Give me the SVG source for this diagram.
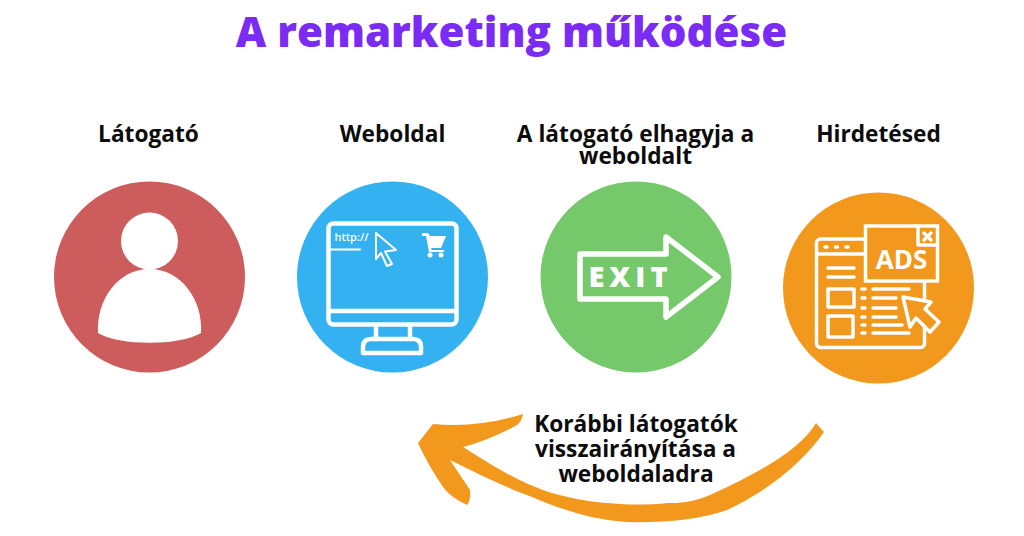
<svg xmlns="http://www.w3.org/2000/svg" width="1024" height="536" viewBox="0 0 1024 536">
<style>
text{font-family:"Open Sans","Liberation Sans",sans-serif;font-weight:700;text-anchor:middle;fill:#0c0c0c}
.title{font-size:42px;font-weight:800;fill:#7a2cf5}
.lab{font-size:22.700px}
.ln{fill:none;stroke:#fff;stroke-width:4.500;stroke-linejoin:round;stroke-linecap:round}
.thin{fill:none;stroke:#fff;stroke-width:3.500;stroke-linejoin:round;stroke-linecap:round}
.ic{fill:#fff;stroke:none}
</style>
<rect width="1024" height="536" fill="#fff"/>
<text class="title" x="511.500" y="47">A remarketing működése</text>
<g id="node-latogato">
<text class="lab" x="148.500" y="142">Látogató</text>
<circle cx="149.500" cy="277" r="95.500" fill="#cd5c5c"/>
<circle class="ic" cx="149.500" cy="241" r="28.500"/>
<path class="ic" d="M98 333C96 300 118 269 149.500 269C181 269 203 300 201 333C180 346 119 346 98 333Z"/>
</g>
<g id="node-weboldal">
<text class="lab" x="392.500" y="142">Weboldal</text>
<circle cx="392.500" cy="277" r="95.500" fill="#33b1f1"/>
<rect class="ln" x="328.500" y="223.500" width="128" height="101" rx="5"/>
<path class="ln" d="M329 311H456M376 327V339M410 327V339"/>
<path class="ln" d="M363 353V347Q363 339 371 339H413Q421 339 421 347V353Z"/>
<text x="351.500" y="241" style="font-size:11px;font-weight:600;fill:#fff">http://</text>
<path class="ln" style="stroke-width:2" d="M331 249.500H360"/>
<path class="ln" style="stroke-width:2" d="M376 233L396 250L385 251.500L392 264L387 266L381 253L376 259Z"/>
<path class="ic" d="M422 233H428L430 236H446L441 248H431L432 250H444V252H429L426 236H422Z"/>
<circle class="ic" cx="430" cy="255" r="2.500"/><circle class="ic" cx="441" cy="255" r="2.500"/>
</g>
<g id="node-kilep">
<text class="lab" x="635.500" y="142">A látogató elhagyja a</text>
<text class="lab" x="635.500" y="164">weboldalt</text>
<circle cx="636" cy="277" r="95.500" fill="#76c96b"/>
<path class="ln" style="stroke-width:5.500" d="M580 254H666V237L718 277L666 317V299H580Z"/>
<text x="630.500" y="287" style="font-size:29px;font-weight:800;letter-spacing:5px;fill:#fff">EXIT</text>
</g>
<g id="node-hirdetes">
<text class="lab" x="878.500" y="142">Hirdetésed</text>
<circle cx="878.500" cy="288" r="95.500" fill="#f2981c"/>
<rect class="thin" x="816.500" y="239" width="108" height="108.500" rx="4"/>
<path class="thin" d="M817 254H866M825 247H827M835.500 247H837.500M846 247H848M828 268H854M828 277H854"/>
<rect x="865.500" y="226" width="72" height="55" fill="#f2981c" stroke="#fff" stroke-width="3.500"/>
<path class="thin" d="M918 227V245H937"/>
<path class="thin" d="M924 233L931 240M931 233L924 240"/>
<text x="901.500" y="269" style="font-size:26px;font-weight:700;fill:#fff">ADS</text>
<rect class="thin" x="828" y="289" width="26" height="18"/>
<rect class="thin" x="828" y="316" width="25" height="21"/>
<path class="thin" d="M862 289H865M862 298H865M862 308H865M862 317H865M862 325H865M862 333H865M873 289H909M873 298H896M873 308H896M873 317H896M873 325H902M873 333H909"/>
<path d="M903 297L931 302L925 309L939 322L930 332L916 318L910 327Z" fill="#f2981c" stroke="#fff" stroke-width="3.500" stroke-linejoin="round"/>
</g>
<g id="connectors">
<path fill="#f2981c" d="M418 443L433 424Q480 428 523 414Q522 421 517 425Q490 440 463 447C490 464 515 480 543 490C570 500 620 508 668 503C680 503 690 503 710 495C760 472 800 450 816 423L824 432C805 460 770 490 727 510C700 520 660 523 627 522C590 520 555 507 527 495C500 485 475 472 450 460Q460 475 470 490Q471 500 467 505Q450 497 443 487Q428 465 418 443Z"/>
</g>
<g id="label-vissza">
<text class="lab" x="636" y="432">Korábbi látogatók</text>
<text class="lab" x="635.500" y="457">visszairányítása a</text>
<text class="lab" x="636" y="482">weboldaladra</text>
</g>
</svg>
